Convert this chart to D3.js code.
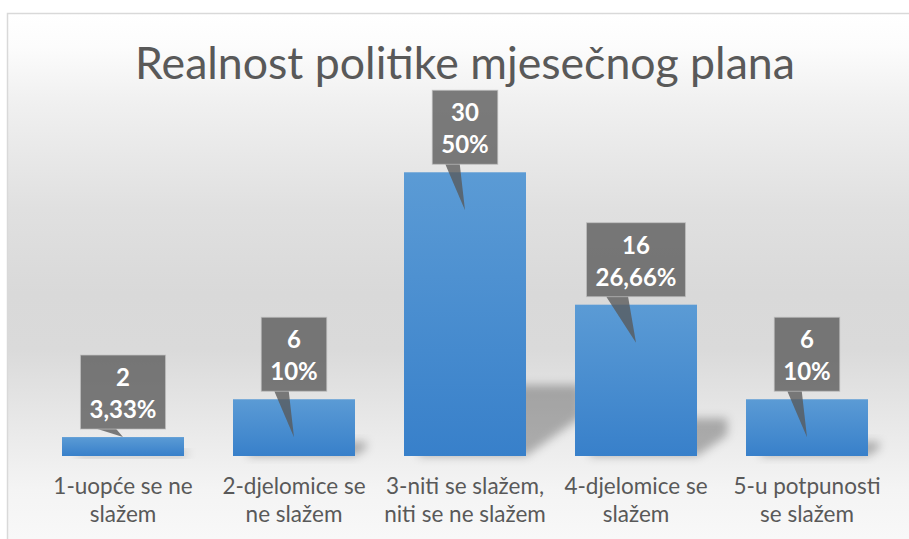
<!DOCTYPE html>
<html>
<head>
<meta charset="utf-8">
<script src="https://cdn.jsdelivr.net/npm/d3@7"></script>
<style>
  body { margin: 0; background: #ffffff; }
  text { font-family: Lato, 'Open Sans', sans-serif; }
</style>
</head>
<body>
<div id="chart"></div>
<script>
// chart data
var chartTitle = 'Realnost politike mjesečnog plana';
var categories = [
    ['1-uopće se ne', 'slažem'],
    ['2-djelomice se', 'ne slažem'],
    ['3-niti se slažem,', 'niti se ne slažem'],
    ['4-djelomice se', 'slažem'],
    ['5-u potpunosti', 'se slažem']
];
var counts = [2, 6, 30, 16, 6];
var percents = ['3,33%', '10%', '50%', '26,66%', '10%'];
var yMax = 35;

// svg area
var svgWidth = 909;
var svgHeight = 539;

var svg = d3.select('#chart')
    .append('svg')
    .attr('width', svgWidth)
    .attr('height', svgHeight);

var defs = svg.append('defs');

// chart background gradient
var bgGrad = defs.append('linearGradient')
    .attr('id', 'bgGrad')
    .attr('x1', 0).attr('y1', 0)
    .attr('x2', 0).attr('y2', 1);
[[0, '#ffffff'], [0.06, '#fcfcfc'], [0.16, '#f0f0f0'], [0.35, '#e0e0e0'],
 [0.5, '#d9d9d9'], [0.6, '#dadada'], [0.74, '#e9e9e9'], [0.85, '#f4f4f4'], [1, '#fbfbfb']]
    .forEach(function(s) {
        bgGrad.append('stop').attr('offset', s[0]).attr('stop-color', s[1]);
    });

// bar gradient
var barGrad = defs.append('linearGradient')
    .attr('id', 'barGrad')
    .attr('x1', 0).attr('y1', 0)
    .attr('x2', 0).attr('y2', 1);
barGrad.append('stop').attr('offset', 0).attr('stop-color', '#5b9bd5');
barGrad.append('stop').attr('offset', 1).attr('stop-color', '#3880ca');

var blur = defs.append('filter')
    .attr('id', 'shadowBlur')
    .attr('x', '-50%').attr('y', '-50%')
    .attr('width', '200%').attr('height', '200%');
blur.append('feGaussianBlur').attr('stdDeviation', 5);

// chart area
svg.append('rect')
    .attr('x', 7.5)
    .attr('y', 13.5)
    .attr('width', 930)
    .attr('height', 560)
    .attr('fill', 'url(#bgGrad)')
    .attr('stroke', '#d9d9d9')
    .attr('stroke-width', 1.5);

// title
var title = svg.append('text')
    .attr('x', 465)
    .attr('y', 79)
    .attr('text-anchor', 'middle')
    .attr('fill', '#595959')
    .style('font-size', '44px')
    .text(chartTitle);
var tw = title.node().getComputedTextLength();
title.style('font-size', (44 * 660 / tw) + 'px');

// scales
var xBand = d3.scaleBand()
    .domain(d3.range(counts.length))
    .range([37.5, 892.5])
    .paddingInner(49 / 171)
    .paddingOuter(49 / 171 / 2);

var yLinear = d3.scaleLinear()
    .domain([0, yMax])
    .range([456, 125]);

var base = yLinear(0);

// shadows
svg.append('g')
    .selectAll('polygon')
    .data(counts)
    .enter()
    .append('polygon')
    .attr('points', function(d, i) {
        var x0 = xBand(i), x1 = x0 + xBand.bandwidth();
        var h = base - yLinear(d);
        var hs = h * 0.25;
        var rise = hs * 0.55;
        var ext = Math.min(55, hs * 0.8);
        return [[x0 + 15, base], [x1, base], [x1 + ext, base - rise],
                [x1 + ext, base - hs], [x0 + 15, base - hs]].join(' ');
    })
    .attr('fill', '#000')
    .attr('fill-opacity', 0.28)
    .attr('filter', 'url(#shadowBlur)');

// bars
svg.append('g')
    .selectAll('rect')
    .data(counts)
    .enter()
    .append('rect')
    .attr('x', (d, i) => xBand(i))
    .attr('y', d => yLinear(d))
    .attr('width', xBand.bandwidth())
    .attr('height', d => base - yLinear(d))
    .attr('fill', 'url(#barGrad)');

// category labels
var xAxis = d3.axisBottom(xBand).tickSize(0).tickFormat('');
svg.append('g')
    .attr('transform', `translate(0,${base})`)
    .call(xAxis)
    .call(g => g.select('.domain').remove());

var labels = svg.append('g')
    .selectAll('text')
    .data(categories)
    .enter()
    .append('text')
    .attr('text-anchor', 'middle')
    .attr('fill', '#595959')
    .style('font-size', '22.5px');
labels.selectAll('tspan')
    .data((d, i) => d.map(line => ({line: line, i: i})))
    .enter()
    .append('tspan')
    .attr('x', d => xBand(d.i) + xBand.bandwidth() / 2)
    .attr('y', (d, j) => 494 + j * 28)
    .text(d => d.line);

// data callouts
var callouts = svg.append('g')
    .selectAll('g')
    .data(counts)
    .enter()
    .append('g');

callouts.each(function(d, i) {
    var g = d3.select(this);
    var c = xBand(i) + xBand.bandwidth() / 2;
    var top = yLinear(d);
    var boxTop = top - 82;
    var boxBottom = boxTop + 74;
    var tipY = (base - top) > 40 ? top + 38 : top;

    var shape = g.append('path');
    var outline = g.append('rect');

    var t1 = g.append('text')
        .attr('x', c)
        .attr('y', boxTop + 31)
        .attr('text-anchor', 'middle')
        .attr('fill', '#ffffff')
        .style('font-size', '24px')
        .style('font-weight', 'bold')
        .text(d);
    var t2 = g.append('text')
        .attr('x', c)
        .attr('y', boxTop + 63)
        .attr('text-anchor', 'middle')
        .attr('fill', '#ffffff')
        .style('font-size', '24px')
        .style('font-weight', 'bold')
        .text(percents[i]);

    var w = Math.max(t1.node().getComputedTextLength(), t2.node().getComputedTextLength()) + 18;
    var x0 = c - w / 2, x1 = c + w / 2;

    var p = d3.path();
    p.moveTo(x0, boxTop);
    p.lineTo(x1, boxTop);
    p.lineTo(x1, boxBottom);
    p.lineTo(c - 0.08 * w, boxBottom);
    p.lineTo(c, tipY);
    p.lineTo(c - 0.3 * w, boxBottom);
    p.lineTo(x0, boxBottom);
    p.closePath();

    shape.attr('d', p.toString())
        .attr('fill', '#595959')
        .attr('fill-opacity', 0.78);

    outline.attr('x', x0)
        .attr('y', boxTop)
        .attr('width', w)
        .attr('height', 74)
        .attr('fill', 'none')
        .attr('stroke', '#bfbfbf')
        .attr('stroke-opacity', 0.7)
        .attr('stroke-width', 1);
});
</script>
</body>
</html>
